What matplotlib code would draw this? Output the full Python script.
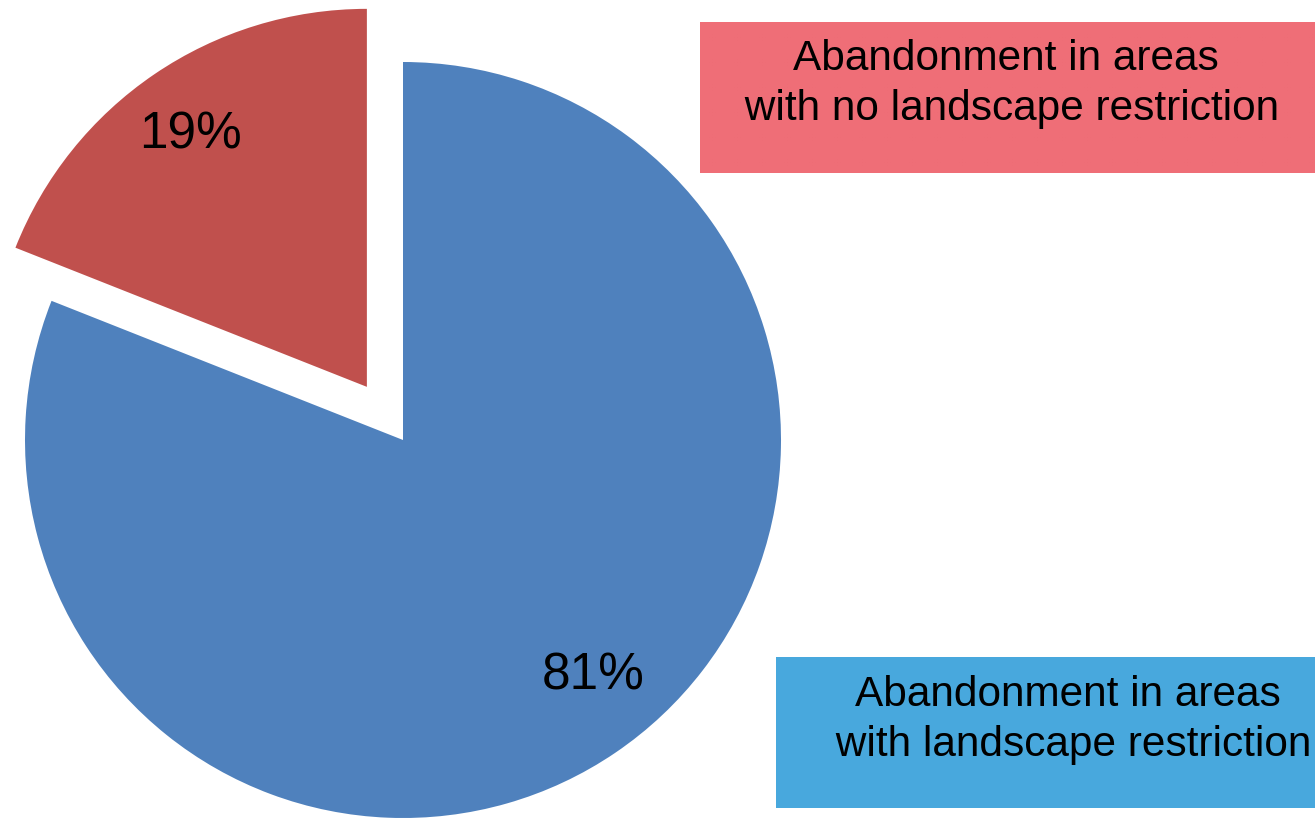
import matplotlib.pyplot as plt
from matplotlib.patches import Rectangle

plt.rcParams['font.family'] = ['Liberation Sans', 'DejaVu Sans']
plt.rcParams['hatch.linewidth'] = 0.35

labels = ["Abandonment in areas\n with landscape restriction",
          "Abandonment in areas\n with no landscape restriction"]
values = [81, 19]
pcts = ["81%", "19%"]
colors = ['#4F81BD', '#C0504D']

fig = plt.figure(figsize=(13.15, 8.18), dpi=100)
ax = fig.add_axes([0, 0, 1, 1])
wedges, _ = ax.pie(values, colors=colors, startangle=90, counterclock=False,
                   explode=[0, 0.17], radius=1, center=(0, 0),
                   wedgeprops=dict(linewidth=0))
ax.set_aspect('auto')
ax.set_xlim(-403 / 378, (1315 - 403) / 378)
ax.set_ylim(-378 / 378, 440 / 378)
ax.axis('off')

# percentage labels
ax.text((593 - 403) / 378, (440 - 676) / 378, pcts[0], fontsize=37,
        ha='center', va='center')
ax.text((190 - 403) / 378, (440 - 135) / 378, pcts[1], fontsize=37,
        ha='center', va='center')

# legend boxes (figure pixels)
W, H = 1315, 818
def box(x0, y0, x1, y1, fc, text, tx, ty, hatch=None, ec='none'):
    r = Rectangle((x0 / W, 1 - y1 / H), (x1 - x0) / W, (y1 - y0) / H,
                  transform=fig.transFigure, facecolor=fc, hatch=hatch,
                  edgecolor=ec, linewidth=0)
    fig.add_artist(r)
    fig.text(tx / W, 1 - ty / H, text, fontsize=30.5,
             ha='center', va='center', linespacing=1.32)

box(700, 22, 1315, 173, '#E84552', labels[1], 1006, 84,
    hatch='+' * 22, ec='#EF6E77')
box(776, 657, 1315, 808, '#48A8DD', labels[0], 1068, 720)

fig.savefig('out.png', dpi=100)
